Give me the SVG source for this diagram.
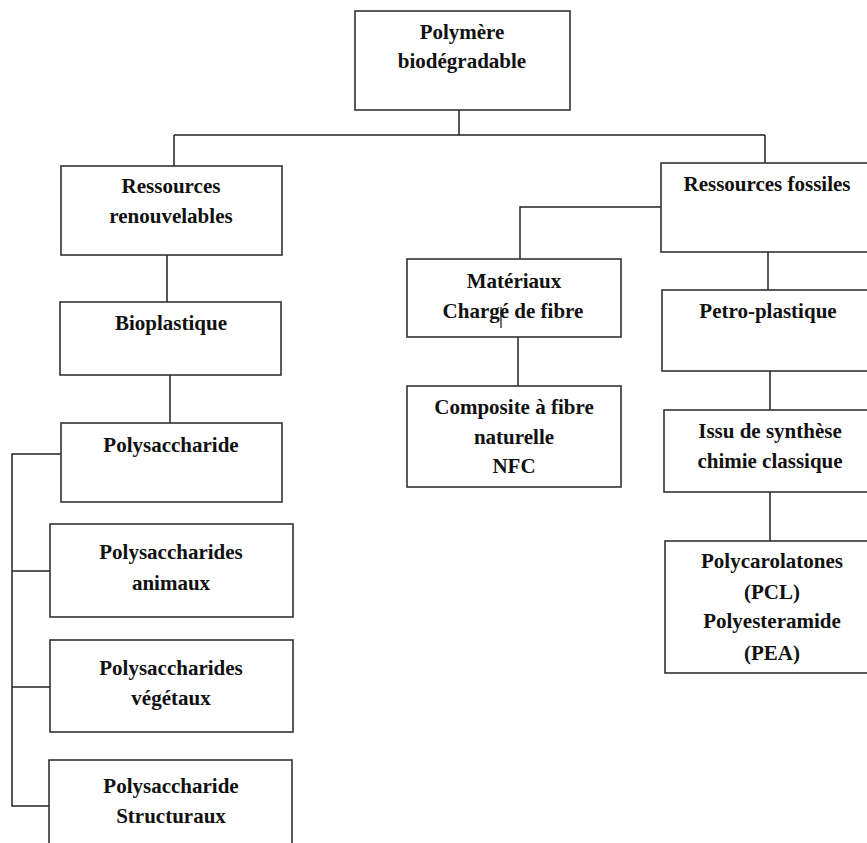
<svg xmlns="http://www.w3.org/2000/svg" width="867" height="843" viewBox="0 0 867 843">
<style>
.box{fill:#fff;stroke:#333;stroke-width:1.6}
.ln{fill:none;stroke:#222;stroke-width:1.5}
text{font-family:"Liberation Serif","Times New Roman",serif;font-weight:bold;font-size:21px;fill:#111;text-anchor:middle}
</style>
<rect width="867" height="843" fill="#fff"/>
<g id="connectors">
<path class="ln" d="M459,110 V135 M174,135 H765 M174,135 V166 M765,135 V163"/>
<path class="ln" d="M167,255 V302 M170,375 V423"/>
<path class="ln" d="M61,454 H12 V806 H49 M12,571 H50 M12,687 H52"/>
<path class="ln" d="M661,207 H520 V259 M518,337 V386"/>
<path class="ln" d="M768,252 V290 M770,371 V410 M770,492 V541"/>
</g>
<g id="n-polymere"><rect class="box" x="355" y="11" width="215" height="99"/><text x="462" y="39">Polymère</text><text x="462" y="68">biodégradable</text></g>
<g id="n-renouvelables"><rect class="box" x="61" y="166" width="221" height="89"/><text x="171" y="193">Ressources</text><text x="171" y="223">renouvelables</text></g>
<g id="n-bioplastique"><rect class="box" x="60" y="302" width="221" height="73"/><text x="171" y="330">Bioplastique</text></g>
<g id="n-polysaccharide"><rect class="box" x="61" y="423" width="221" height="79"/><text x="171" y="452">Polysaccharide</text></g>
<g id="n-animaux"><rect class="box" x="50" y="524" width="243" height="93"/><text x="171" y="559">Polysaccharides</text><text x="171" y="590">animaux</text></g>
<g id="n-vegetaux"><rect class="box" x="50" y="640" width="243" height="92"/><text x="171" y="675">Polysaccharides</text><text x="171" y="705">végétaux</text></g>
<g id="n-structuraux"><rect class="box" x="49" y="760" width="243" height="100"/><text x="171" y="793">Polysaccharide</text><text x="171" y="823">Structuraux</text></g>
<g id="n-fossiles"><rect class="box" x="661" y="163" width="220" height="89"/><text x="767" y="191">Ressources fossiles</text></g>
<g id="n-materiaux"><rect class="box" x="407" y="259" width="214" height="78"/><text x="514" y="288">Matériaux</text><text x="513" y="318">Chargé de fibre</text><line x1="501" y1="307" x2="501" y2="328" stroke="#111" stroke-width="1.2"/></g>
<g id="n-composite"><rect class="box" x="407" y="386" width="214" height="101"/><text x="514" y="414">Composite à fibre</text><text x="514" y="444">naturelle</text><text x="514" y="473">NFC</text></g>
<g id="n-petro"><rect class="box" x="662" y="290" width="220" height="81"/><text x="768" y="318">Petro-plastique</text></g>
<g id="n-issu"><rect class="box" x="664" y="410" width="220" height="82"/><text x="770" y="438">Issu de synthèse</text><text x="770" y="468">chimie classique</text></g>
<g id="n-pcl"><rect class="box" x="665" y="541" width="220" height="132"/><text x="772" y="568">Polycarolatones</text><text x="772" y="599">(PCL)</text><text x="772" y="628">Polyesteramide</text><text x="772" y="660">(PEA)</text></g>
</svg>
